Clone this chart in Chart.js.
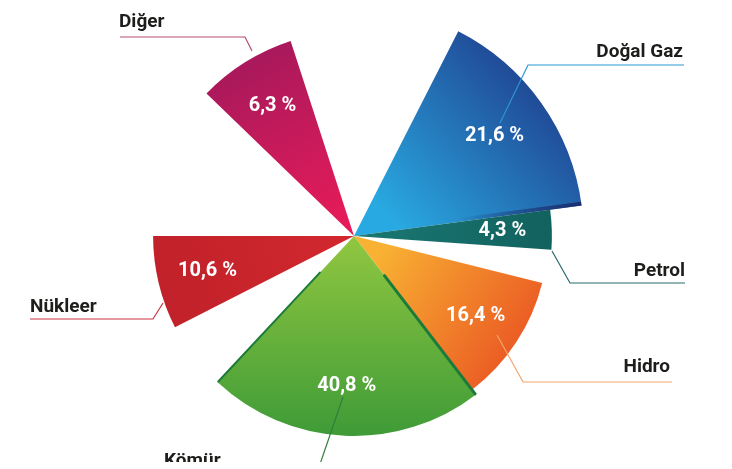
<!DOCTYPE html>
<html>
<head>
<meta charset="utf-8">
<script src="https://cdn.jsdelivr.net/npm/chart.js@4.4.1/dist/chart.umd.min.js"></script>
<style>
  html, body { margin: 0; padding: 0; background: #fff; }
  #wrap { width: 732px; height: 469px; position: relative; }
</style>
</head>
<body>
<div id="wrap"><canvas id="energyChart"></canvas></div>
<script>
// Kategoriler ve payları (%)
const categories = ['Doğal Gaz', 'Petrol', 'Hidro', 'Kömür', 'Nükleer', 'Diğer'];
const shares = [21.6, 4.3, 16.4, 40.8, 10.6, 6.3];

// Resimde her dilimin kapladığı açı ve ardından gelen boşluk (derece)
const sweepDeg = [55.4, 11.6, 38.5, 80.5, 27, 28];
const gapAfterDeg = [0, 10, 0, 20, 44, 45];

// Dilimlerin uzunluğu (0-100 ölçeğinde)
const reach = [99, 85.3, 83.6, 86.2, 86.6, 88.4];

// Chart.js tablosunu kur: dilimler + boş aralıklar
const labels = [];
const values = [];
const angles = [];
const sliceOf = [];
categories.forEach((name, i) => {
    labels.push(name);
    values.push(reach[i]);
    angles.push(sweepDeg[i]);
    sliceOf.push(i);
    if (gapAfterDeg[i] > 0) {
        labels.push('');
        values.push(0);
        angles.push(gapAfterDeg[i]);
        sliceOf.push(-1);
    }
});

// Renkler
const flatColors = ['#2375c0', '#16706c', '#f2822c', '#6cb33e', '#c8252c', '#c81a5c'];
const gradientStops = [
    [400, 230, 565, 75, '#29a9e1', '#1f3a8a'],
    [360, 236, 550, 236, '#1a7772', '#12625f'],
    [385, 245, 530, 345, '#f8b133', '#ea5723'],
    [354, 240, 354, 440, '#8fc640', '#3d9a37'],
    [354, 236, 150, 290, '#d2282e', '#c0212a'],
    [345, 225, 250, 40, '#e71b59', '#a3195c']
];
const leaderColors = ['#2b95d5', '#2a6a6b', '#f4a46c', '#2f7f3b', '#c9353e', '#b84a73'];

function sliceBackground(context) {
    const k = sliceOf[context.dataIndex];
    if (k < 0) return 'rgba(0,0,0,0)';
    const chartArea = context.chart.chartArea;
    if (!chartArea) return flatColors[k];
    const g = gradientStops[k];
    const grad = context.chart.ctx.createLinearGradient(g[0], g[1], g[2], g[3]);
    grad.addColorStop(0, g[4]);
    grad.addColorStop(1, g[5]);
    return grad;
}

function arcProps(chart, k) {
    const meta = chart.getDatasetMeta(0);
    const idx = sliceOf.indexOf(k);
    return meta.data[idx].getProps(['x', 'y', 'startAngle', 'endAngle', 'outerRadius'], true);
}

// Kömür ve Doğal Gaz dilimlerindeki koyu kenarlar (3B etkisi)
const edgeShading = {
    id: 'edgeShading',
    afterDatasetsDraw(chart) {
        const ctx = chart.ctx;
        ctx.save();
        // Kömür: iki yan kenar
        const c = arcProps(chart, 3);
        ctx.strokeStyle = '#1c7b3a';
        ctx.lineCap = 'round';
        [[c.startAngle, 3], [c.endAngle, 2]].forEach(([a, w]) => {
            ctx.lineWidth = w;
            ctx.beginPath();
            ctx.moveTo(c.x + Math.cos(a) * c.outerRadius * 0.25, c.y + Math.sin(a) * c.outerRadius * 0.25);
            ctx.lineTo(c.x + Math.cos(a) * (c.outerRadius - 1), c.y + Math.sin(a) * (c.outerRadius - 1));
            ctx.stroke();
        });
        // Doğal Gaz: alt kenarda koyu şerit (dilimin içinde kalacak şekilde)
        const d = arcProps(chart, 0);
        ctx.beginPath();
        ctx.moveTo(d.x, d.y);
        ctx.arc(d.x, d.y, d.outerRadius, d.startAngle, d.endAngle);
        ctx.closePath();
        ctx.clip();
        const a = d.endAngle;
        const x0 = d.x + Math.cos(a) * d.outerRadius * 0.45, y0 = d.y + Math.sin(a) * d.outerRadius * 0.45;
        const x1 = d.x + Math.cos(a) * d.outerRadius, y1 = d.y + Math.sin(a) * d.outerRadius;
        const grad = ctx.createLinearGradient(x0, y0, x1, y1);
        grad.addColorStop(0, 'rgba(27,47,110,0)');
        grad.addColorStop(1, 'rgba(27,47,110,1)');
        ctx.strokeStyle = grad;
        ctx.lineWidth = 8;
        ctx.lineCap = 'butt';
        ctx.beginPath();
        ctx.moveTo(x0, y0);
        ctx.lineTo(x1, y1);
        ctx.stroke();
        ctx.restore();
    }
};

// Yüzde etiketleri (dilimlerin içinde)
const percentLabels = {
    id: 'percentLabels',
    afterDatasetsDraw(chart) {
        const ctx = chart.ctx;
        const meta = chart.getDatasetMeta(0);
        ctx.save();
        ctx.fillStyle = '#ffffff';
        ctx.font = 'bold 20px Roboto, "DejaVu Sans", sans-serif';
        ctx.textAlign = 'center';
        ctx.textBaseline = 'middle';
        meta.data.forEach((arc, idx) => {
            const k = sliceOf[idx];
            if (k < 0) return;
            const p = arc.getProps(['x', 'y', 'startAngle', 'endAngle', 'outerRadius'], true);
            const mid = (p.startAngle + p.endAngle) / 2;
            const r = p.outerRadius * 0.75;
            const txt = shares[k].toFixed(1).replace('.', ',') + ' %';
            ctx.fillText(txt, p.x + Math.cos(mid) * r, p.y + Math.sin(mid) * r);
        });
        ctx.restore();
    }
};

// Dış etiketler ve bağlantı çizgileri
const callouts = [
    { text: 'Doğal Gaz', x: 683, y: 57, align: 'right', line: [[500, 123], [528, 65], [684, 65]] },
    { text: 'Petrol', x: 685, y: 276, align: 'right', line: [[552, 251], [570, 283], [685, 283]] },
    { text: 'Hidro', x: 670, y: 372, align: 'right', line: [[497, 335], [523, 382], [672, 382]] },
    { text: 'Kömür', x: 164, y: 466, align: 'left', line: [[343, 397], [318, 470]] },
    { text: 'Nükleer', x: 30, y: 312, align: 'left', line: [[163, 303], [153, 319], [30, 319]] },
    { text: 'Diğer', x: 119, y: 27, align: 'left', line: [[252, 51], [245, 37], [120, 37]] }
];

const calloutPlugin = {
    id: 'callouts',
    afterDatasetsDraw(chart) {
        const ctx = chart.ctx;
        ctx.save();
        // resmin alt kenarı kırpılmış
        ctx.beginPath();
        ctx.rect(0, 0, chart.width, 462);
        ctx.clip();
        callouts.forEach((c, k) => {
            ctx.strokeStyle = leaderColors[k];
            ctx.lineWidth = 1.2;
            ctx.beginPath();
            c.line.forEach((pt, j) => j === 0 ? ctx.moveTo(pt[0], pt[1]) : ctx.lineTo(pt[0], pt[1]));
            ctx.stroke();
            ctx.fillStyle = '#1d1d1b';
            ctx.font = 'bold 19px Roboto, "DejaVu Sans", sans-serif';
            ctx.textAlign = c.align;
            ctx.textBaseline = 'alphabetic';
            ctx.fillText(c.text, c.x, c.y);
        });
        ctx.restore();
    }
};

const energyChart = new Chart(document.getElementById('energyChart'), {
    type: 'polarArea',
    data: {
        labels: labels,
        datasets: [{
            data: values,
            angle: c => angles[c.dataIndex],
            backgroundColor: sliceBackground,
            borderWidth: 0
        }]
    },
    options: {
        responsive: true,
        maintainAspectRatio: false,
        animation: false,
        layout: {
            padding: { left: 122, right: 146, top: 4, bottom: 1 }
        },
        scales: {
            r: {
                display: false,
                min: 0,
                max: 100,
                startAngle: 27,
                pointLabels: { display: false }
            }
        },
        plugins: {
            legend: { display: false },
            tooltip: { enabled: false }
        }
    },
    plugins: [edgeShading, percentLabels, calloutPlugin]
});
</script>
</body>
</html>
